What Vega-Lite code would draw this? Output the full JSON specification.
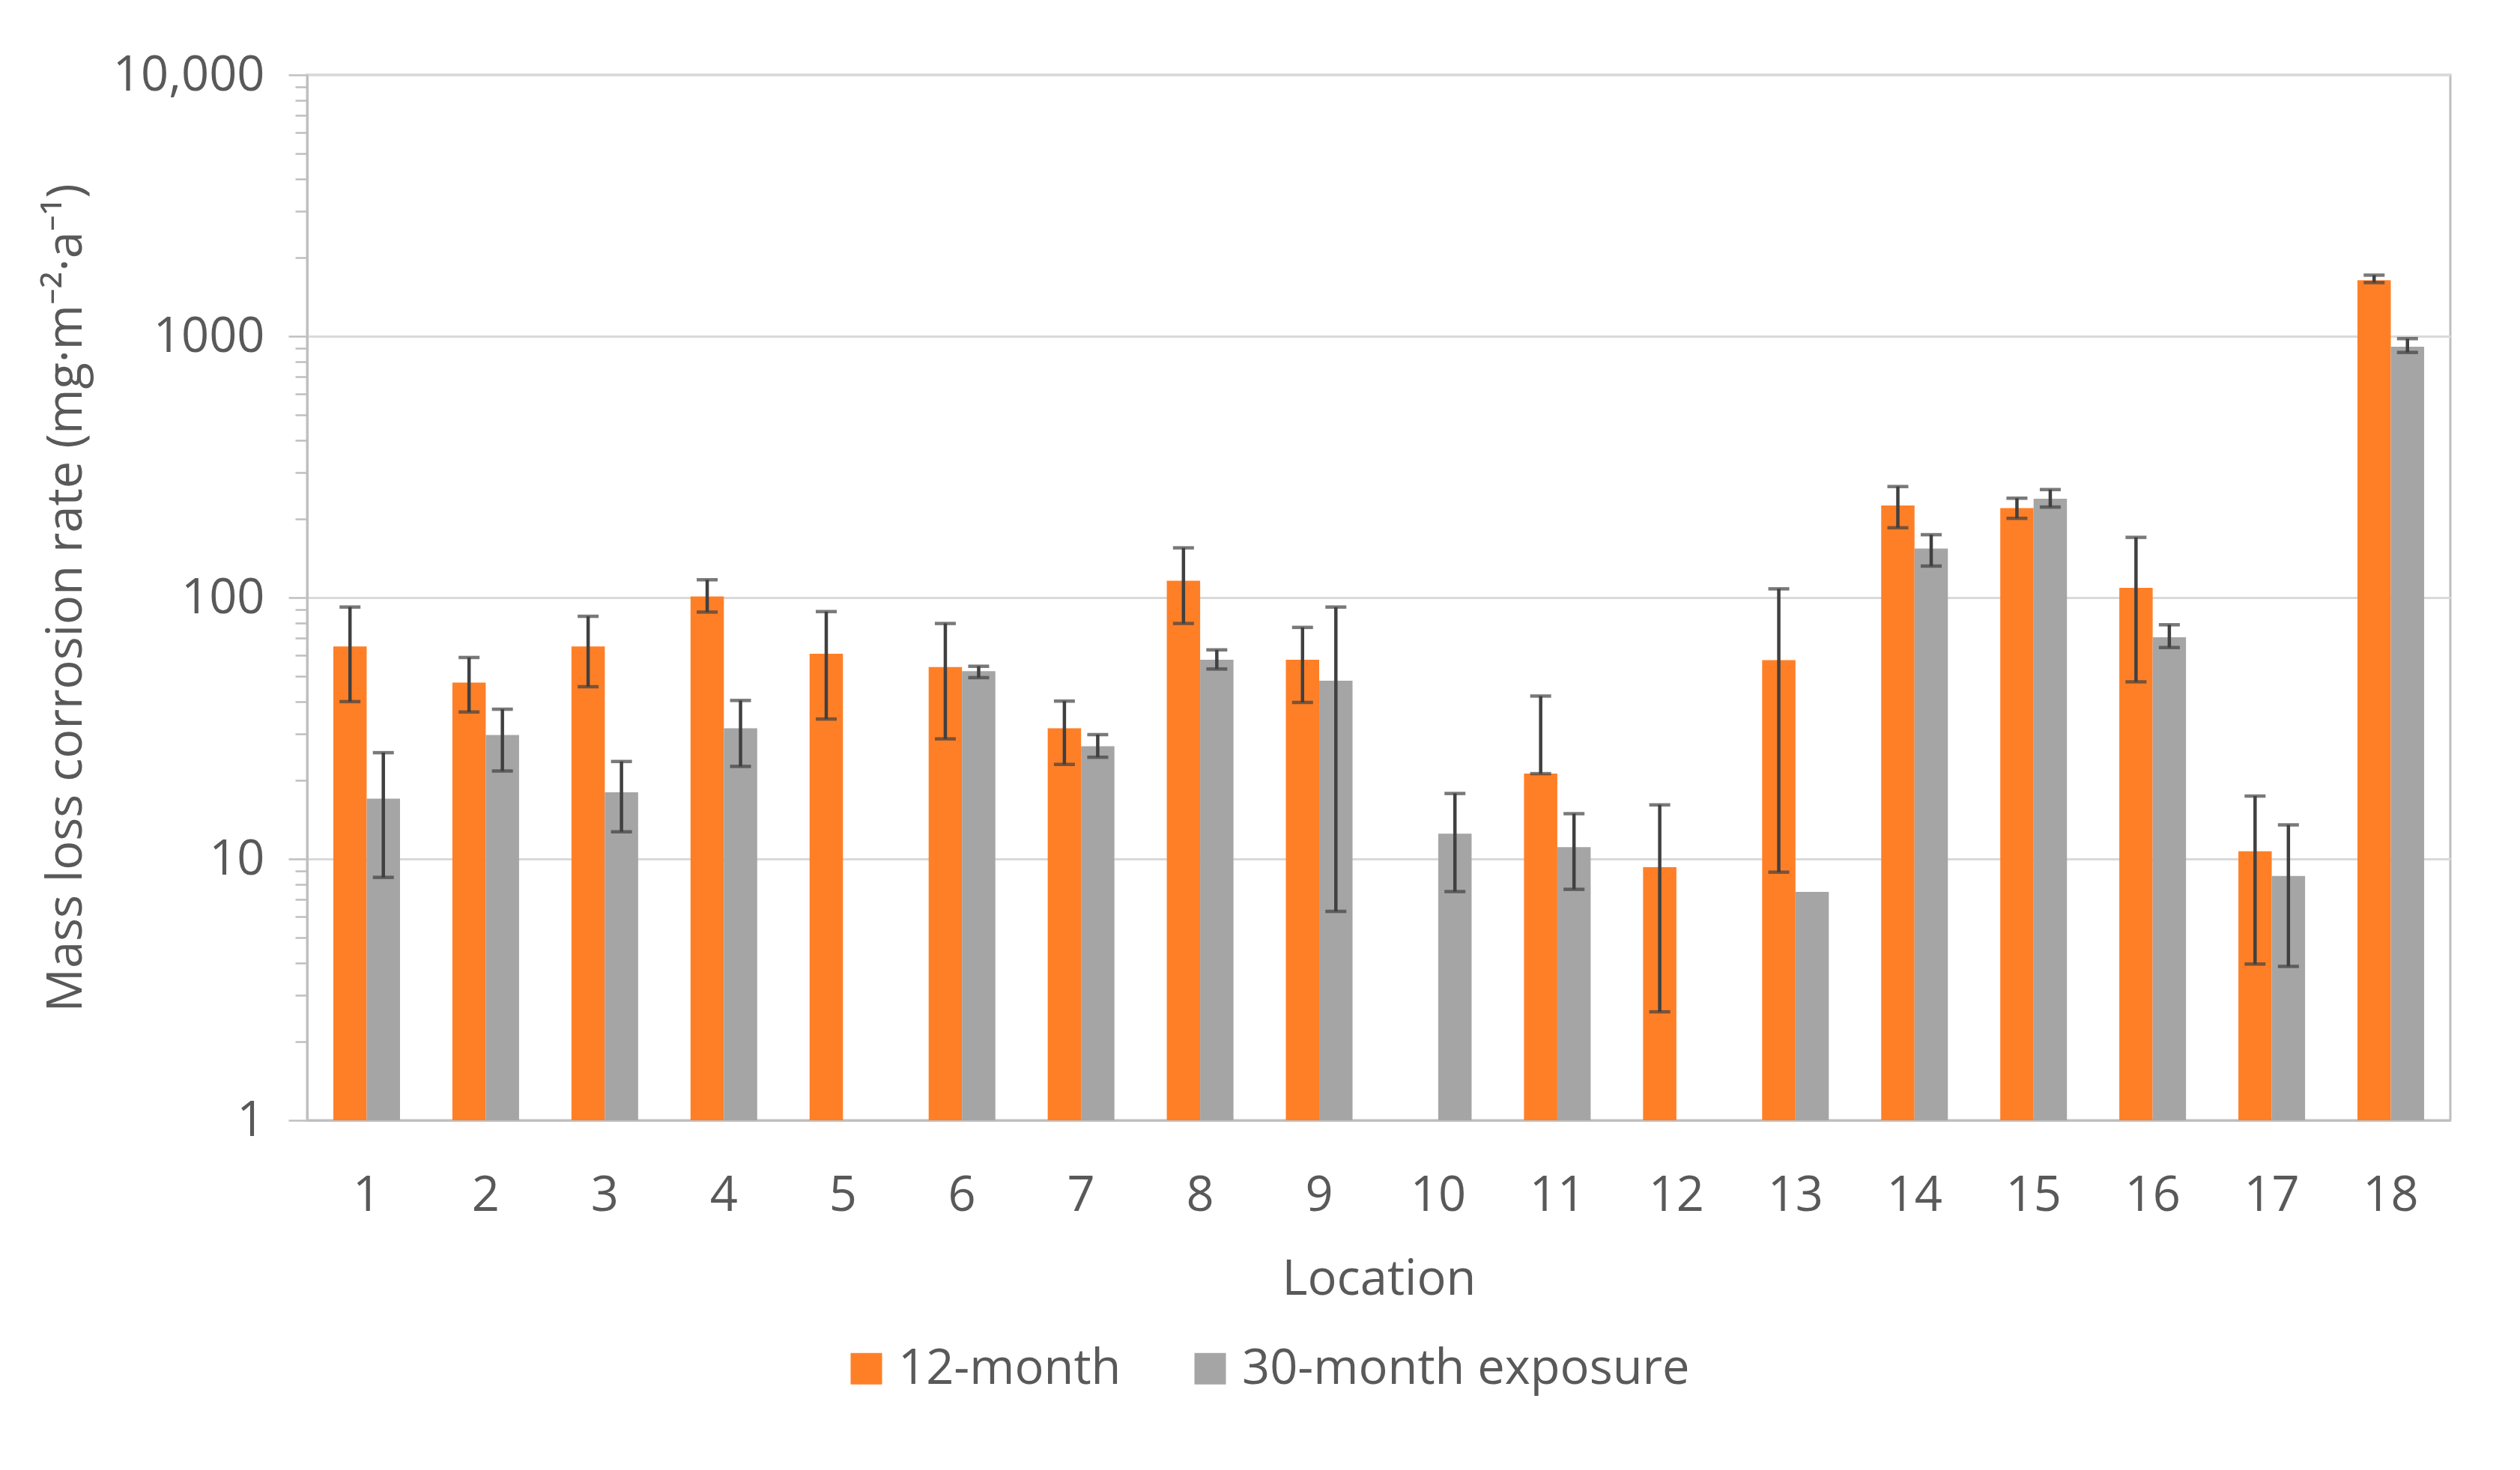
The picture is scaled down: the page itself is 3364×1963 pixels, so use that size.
{
  "$schema": "https://vega.github.io/schema/vega-lite/v6.json",
  "autosize": {"type": "none"},
  "padding": {"left": 410, "top": 100, "right": 93, "bottom": 467},
  "width": 2861,
  "height": 1396,
  "background": "white",
  "config": {
    "font": "Open Sans",
    "view": {"stroke": "#bfbfbf", "strokeWidth": 3},
    "axis": {"labelColor": "#595959", "titleColor": "#595959", "titleFontWeight": "normal", "labelFontSize": 65, "titleFontSize": 65, "labelLimit": 600}
  },
  "data": {
    "values": [
      {"location": 1, "series": "12-month", "value": 65, "lo": 40, "hi": 92},
      {"location": 1, "series": "30-month exposure", "value": 17, "lo": 8.5, "hi": 25.5},
      {"location": 2, "series": "12-month", "value": 47.3, "lo": 36.5, "hi": 59},
      {"location": 2, "series": "30-month exposure", "value": 29.8, "lo": 21.7, "hi": 37.4},
      {"location": 3, "series": "12-month", "value": 65, "lo": 45.6, "hi": 84.8},
      {"location": 3, "series": "30-month exposure", "value": 18, "lo": 12.7, "hi": 23.6},
      {"location": 4, "series": "12-month", "value": 101, "lo": 88, "hi": 117},
      {"location": 4, "series": "30-month exposure", "value": 31.6, "lo": 22.6, "hi": 40.4},
      {"location": 5, "series": "12-month", "value": 61, "lo": 34.3, "hi": 88.4},
      {"location": 6, "series": "12-month", "value": 54.2, "lo": 28.8, "hi": 79.6},
      {"location": 6, "series": "30-month exposure", "value": 52.3, "lo": 49.4, "hi": 54.6},
      {"location": 7, "series": "12-month", "value": 31.6, "lo": 23.0, "hi": 40.2},
      {"location": 7, "series": "30-month exposure", "value": 27.0, "lo": 24.5, "hi": 29.9},
      {"location": 8, "series": "12-month", "value": 116, "lo": 79.6, "hi": 155},
      {"location": 8, "series": "30-month exposure", "value": 57.8, "lo": 53.3, "hi": 63.1},
      {"location": 9, "series": "12-month", "value": 57.8, "lo": 39.7, "hi": 76.9},
      {"location": 9, "series": "30-month exposure", "value": 48.1, "lo": 6.3, "hi": 92},
      {"location": 10, "series": "30-month exposure", "value": 12.5, "lo": 7.5, "hi": 17.8},
      {"location": 11, "series": "12-month", "value": 21.2, "lo": 21.2, "hi": 42},
      {"location": 11, "series": "30-month exposure", "value": 11.1, "lo": 7.65, "hi": 14.9},
      {"location": 12, "series": "12-month", "value": 9.3, "lo": 2.6, "hi": 16.1},
      {"location": 13, "series": "12-month", "value": 57.6, "lo": 8.9, "hi": 108},
      {"location": 13, "series": "30-month exposure", "value": 7.48, "lo": null, "hi": null},
      {"location": 14, "series": "12-month", "value": 225, "lo": 185, "hi": 266},
      {"location": 14, "series": "30-month exposure", "value": 154, "lo": 132, "hi": 174},
      {"location": 15, "series": "12-month", "value": 220, "lo": 201, "hi": 240},
      {"location": 15, "series": "30-month exposure", "value": 239, "lo": 222, "hi": 259},
      {"location": 16, "series": "12-month", "value": 109, "lo": 47.6, "hi": 170},
      {"location": 16, "series": "30-month exposure", "value": 70.5, "lo": 64.4, "hi": 78.7},
      {"location": 17, "series": "12-month", "value": 10.7, "lo": 3.96, "hi": 17.4},
      {"location": 17, "series": "30-month exposure", "value": 8.6, "lo": 3.88, "hi": 13.5},
      {"location": 18, "series": "12-month", "value": 1637, "lo": 1604, "hi": 1713},
      {"location": 18, "series": "30-month exposure", "value": 912, "lo": 867, "hi": 979}
    ]
  },
  "encoding": {
    "x": {
      "field": "location", "type": "ordinal",
      "scale": {"domain": [1,2,3,4,5,6,7,8,9,10,11,12,13,14,15,16,17,18], "paddingInner": 0.44, "paddingOuter": 0.22},
      "axis": {"title": "Location", "labelAngle": 0, "ticks": false, "domainColor": "#bfbfbf", "domainWidth": 3, "labelPadding": 69, "titlePadding": 48, "grid": false}
    },
    "xOffset": {"field": "series", "type": "nominal", "scale": {"domain": ["12-month", "30-month exposure"], "paddingInner": 0, "paddingOuter": 0}}
  },
  "layer": [
    {
      "mark": {"type": "bar"},
      "encoding": {
        "y": {
          "field": "value", "type": "quantitative",
          "scale": {"type": "log", "domain": [1, 10000], "nice": false},
          "axis": {
            "title": "Mass loss corrosion rate (mg·m⁻²·a⁻¹)",
            "values": [1,2,3,4,5,6,7,8,9,10,20,30,40,50,60,70,80,90,100,200,300,400,500,600,700,800,900,1000,2000,3000,4000,5000,6000,7000,8000,9000,10000],
            "labelExpr": "datum.value == 10000 ? '10,000' : (indexof([1,10,100,1000], datum.value) >= 0 ? '' + datum.value : '')",
            "labelOverlap": false,
            "labelBound": false,
            "labelFlush": false,
            "labelLimit": 600,
            "labelPadding": 32,
            "grid": true,
            "gridColor": "#d9d9d9",
            "gridWidth": 3,
            "gridOpacity": {"condition": {"test": "indexof([1,10,100,1000,10000], datum.value) >= 0", "value": 1}, "value": 0},
            "tickColor": "#bfbfbf",
            "tickWidth": 2.5,
            "tickSize": {"condition": {"test": "indexof([1,10,100,1000,10000], datum.value) >= 0", "value": 25}, "value": 16},
            "domainColor": "#bfbfbf",
            "domainWidth": 3,
            "titlePadding": 88
          }
        },
        "y2": {"datum": 1},
        "color": {
          "field": "series", "type": "nominal",
          "scale": {"domain": ["12-month", "30-month exposure"], "range": ["#FF7F27", "#A5A5A5"]},
          "legend": {
            "title": null,
            "orient": "none",
            "legendX": 714,
            "legendY": 1695,
            "direction": "horizontal",
            "symbolType": "square",
            "symbolSize": 1764,
            "symbolStrokeWidth": 0,
            "labelFontSize": 65,
            "labelColor": "#595959",
            "labelOffset": 10,
            "columnPadding": 86,
            "labelLimit": 1000
          }
        }
      }
    },
    {
      "transform": [{"filter": "isValid(datum.lo)"}],
      "mark": {"type": "rule", "color": "#404040", "strokeWidth": 4.5},
      "encoding": {
        "y": {"field": "lo", "type": "quantitative"},
        "y2": {"field": "hi"}
      }
    },
    {
      "transform": [{"filter": "isValid(datum.lo)"}],
      "mark": {"type": "tick", "color": "#404040", "orient": "horizontal", "size": 28, "thickness": 4.5},
      "encoding": {
        "y": {"field": "lo", "type": "quantitative"}
      }
    },
    {
      "transform": [{"filter": "isValid(datum.hi)"}],
      "mark": {"type": "tick", "color": "#404040", "orient": "horizontal", "size": 28, "thickness": 4.5},
      "encoding": {
        "y": {"field": "hi", "type": "quantitative"}
      }
    }
  ]
}
